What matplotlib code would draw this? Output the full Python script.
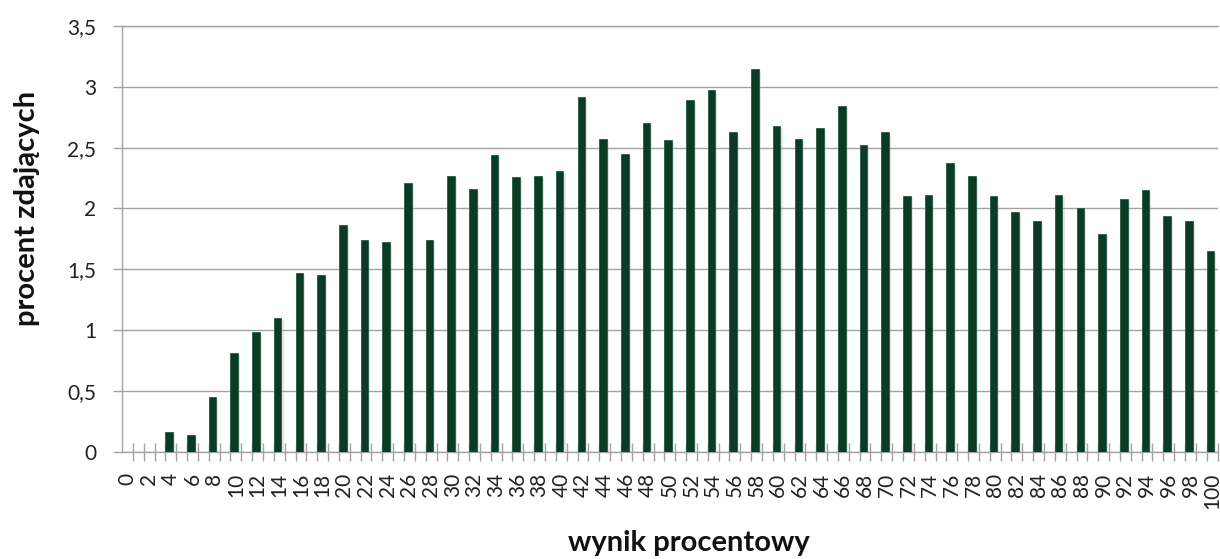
import matplotlib as mpl
mpl.use("Agg")
import matplotlib.pyplot as plt
import matplotlib.patheffects as pe
import numpy as np

# wynik procentowy (co 2 pkt) i procent zdajacych
wyniki = list(range(0, 101, 2))
procent = [0.0, 0.0, 0.16, 0.14, 0.45, 0.81, 0.98, 1.10, 1.47, 1.45,
           1.86, 1.74, 1.72, 2.21, 1.74, 2.27, 2.16, 2.44, 2.26, 2.27,
           2.31, 2.92, 2.57, 2.45, 2.70, 2.56, 2.89, 2.97, 2.63, 3.15,
           2.68, 2.57, 2.66, 2.84, 2.52, 2.63, 2.10, 2.11, 2.37, 2.27,
           2.10, 1.97, 1.90, 2.11, 2.00, 1.79, 2.08, 2.15, 1.94, 1.90,
           1.65]
yticks = [0, 0.5, 1, 1.5, 2, 2.5, 3, 3.5]
ylabels = ["0", "0,5", "1", "1,5", "2", "2,5", "3", "3,5"]

plt.rcParams['font.family'] = ['Lato', 'DejaVu Sans']
grey = '#a3a3a3'

fig = plt.figure(figsize=(12.2, 5.59), dpi=100)
ax = fig.add_axes([0.1, 0.192, 0.898, 0.7615])

bars = ax.bar(np.array(wyniki) - 0.5, procent, width=0.7, align='edge',
              color='#0b3a26', edgecolor='#245c43', linewidth=0.6, zorder=3)
for b in bars:
    b.set_path_effects([pe.SimplePatchShadow(offset=(1.5, -1.5), shadow_rgbFace='#999999', alpha=0.25),
                        pe.Normal()])

ax.set_xlim(-0.5, 100.5)
ax.set_ylim(0, 3.5)
ax.set_yticks(yticks)
ax.set_yticklabels(ylabels, fontsize=15, color='#222222')
ax.yaxis.grid(True, color=grey, linewidth=1, zorder=0)
ax.set_axisbelow(True)

ax.set_xticks(wyniki)
ax.set_xticklabels([str(w) for w in wyniki], rotation=90, fontsize=15, color='#222222')
ax.set_xticks(np.arange(0.5, 101, 1), minor=True)
ax.tick_params(axis='x', which='major', length=0, pad=15)
ax.tick_params(axis='x', which='minor', direction='inout', length=13, color=grey, width=1)
ax.tick_params(axis='y', length=6.5, color=grey, width=1, pad=12)

ax.spines['right'].set_visible(False)
for s in ['left', 'bottom', 'top']:
    ax.spines[s].set_color(grey)
    ax.spines[s].set_linewidth(1)

fig.text(0.565, 0.014, "wynik procentowy", ha='center', va='baseline',
         fontsize=21, fontweight='bold', color='#111111')
fig.text(0.0225, 0.627, "procent zdających", ha='center', va='center', rotation=90,
         fontsize=21, fontweight='bold', color='#111111')

fig.savefig("out.png", dpi=100)
